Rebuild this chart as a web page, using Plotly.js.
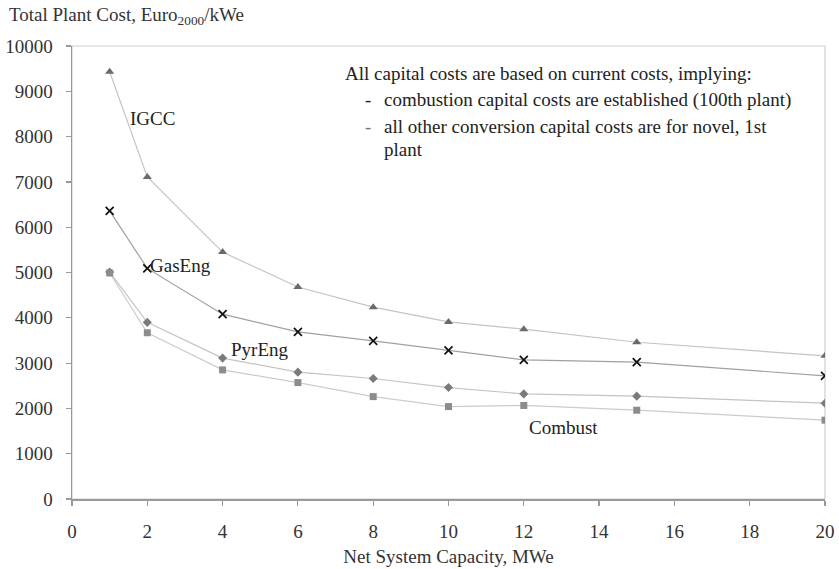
<!DOCTYPE html>
<html>
<head>
<meta charset="utf-8">
<script src="https://cdn.plot.ly/plotly-3.0.1.min.js"></script>
<style>
html,body{margin:0;padding:0;background:#fff;}
#chart{width:839px;height:569px;}
</style>
</head>
<body>
<div id="chart"></div>
<script>
const capacity = [1, 2, 4, 6, 8, 10, 12, 15, 20];
const igcc    = [9430, 7110, 5450, 4680, 4235, 3910, 3750, 3460, 3160];
const gasEng  = [6360, 5090, 4080, 3690, 3490, 3280, 3070, 3020, 2720];
const pyrEng  = [5010, 3900, 3110, 2800, 2660, 2460, 2320, 2270, 2115];
const combust = [4990, 3670, 2850, 2570, 2260, 2040, 2065, 1960, 1740];
const xTicks = [0, 2, 4, 6, 8, 10, 12, 14, 16, 18, 20];
const yTicks = [0, 1000, 2000, 3000, 4000, 5000, 6000, 7000, 8000, 9000, 10000];

const serif = "Liberation Serif";

const traces = [
  {x: capacity, y: pyrEng, mode: 'lines+markers', name: 'PyrEng',
   line: {color: '#c4c4c4', width: 1.2},
   marker: {symbol: 'diamond', size: 7, color: '#7a7a7a'}},
  {x: capacity, y: combust, mode: 'lines+markers', name: 'Combust',
   line: {color: '#cccccc', width: 1.2},
   marker: {symbol: 'square', size: 7, color: '#8c8c8c'}},
  {x: capacity, y: gasEng, mode: 'lines+markers', name: 'GasEng',
   line: {color: '#a0a0a0', width: 1.2},
   marker: {symbol: 'x-thin-open', size: 8, line: {color: '#111', width: 1.7}, color: '#111'}},
  {x: capacity, y: igcc, mode: 'lines+markers', name: 'IGCC',
   line: {color: '#c4c4c4', width: 1.2},
   marker: {symbol: 'triangle-up', size: 8, color: '#6a6a6a'}}
];

const textFont = {family: serif, size: 19, color: '#222'};

const layout = {
  width: 839, height: 569,
  margin: {l: 71.5, r: 13.5, t: 45.7, b: 69.7},
  paper_bgcolor: '#fff', plot_bgcolor: '#fff',
  showlegend: false,
  font: {family: serif, size: 18, color: '#333'},
  xaxis: {
    range: [0, 20], tickvals: xTicks, ticktext: xTicks.map(String),
    showgrid: false, zeroline: false, showline: true, linecolor: '#999', linewidth: 1.5,
    ticks: 'outside', ticklen: 5, tickcolor: '#999', tickwidth: 1.2,
    ticklabelstandoff: 10,
    tickfont: {family: serif, size: 19, color: '#333'},
    title: {text: 'Net System Capacity, MWe', font: {family: serif, size: 19, color: '#333'}, standoff: 8}
  },
  yaxis: {
    range: [0, 10000], tickvals: yTicks, ticktext: yTicks.map(String),
    showgrid: false, zeroline: false, showline: true, linecolor: '#999', linewidth: 1.5,
    ticks: 'outside', ticklen: 5, tickcolor: '#999', tickwidth: 1.2,
    ticklabelstandoff: 9,
    tickfont: {family: serif, size: 19, color: '#333'}
  },
  shapes: [
    {type: 'rect', xref: 'paper', yref: 'paper', x0: 0, x1: 1, y0: 0, y1: 1,
     line: {color: '#cfcfcf', width: 1.2}, layer: 'below'}
  ],
  annotations: [
    {text: 'Total Plant Cost, Euro<sub>2000</sub>/kWe', xref: 'paper', yref: 'paper',
     x: -0.0858, y: 1.0655, xanchor: 'left', yanchor: 'middle', showarrow: false,
     font: {family: serif, size: 19, color: '#333'}},
    {text: 'IGCC', x: 2.15, y: 8400, xanchor: 'center', yanchor: 'middle', showarrow: false, font: textFont},
    {text: 'GasEng', x: 2.89, y: 5165, xanchor: 'center', yanchor: 'middle', showarrow: false, font: textFont},
    {text: 'PyrEng', x: 4.98, y: 3290, xanchor: 'center', yanchor: 'middle', showarrow: false, font: textFont},
    {text: 'Combust', x: 13.06, y: 1580, xanchor: 'center', yanchor: 'middle', showarrow: false, font: textFont},
    {text: 'All capital costs are based on current costs, implying:', x: 7.20, y: 9392, xanchor: 'left', yanchor: 'middle', showarrow: false, font: textFont},
    {text: '-', x: 7.74, y: 8818, xanchor: 'left', yanchor: 'middle', showarrow: false, font: textFont},
    {text: 'combustion capital costs are established (100th plant)', x: 8.24, y: 8818, xanchor: 'left', yanchor: 'middle', showarrow: false, font: textFont},
    {text: '-', x: 7.74, y: 8214, xanchor: 'left', yanchor: 'middle', showarrow: false, font: {family: serif, size: 19, color: '#777'}},
    {text: 'all other conversion capital costs are for novel, 1st', x: 8.24, y: 8214, xanchor: 'left', yanchor: 'middle', showarrow: false, font: textFont},
    {text: 'plant', x: 8.24, y: 7716, xanchor: 'left', yanchor: 'middle', showarrow: false, font: textFont}
  ]
};

Plotly.newPlot('chart', traces, layout, {displayModeBar: false, staticPlot: true});
</script>
</body>
</html>
